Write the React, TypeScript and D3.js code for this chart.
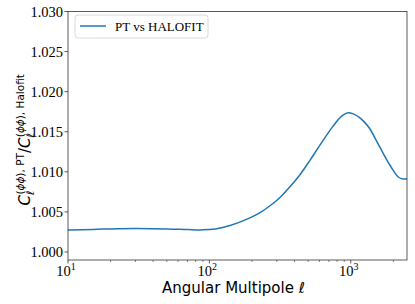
import React from 'react';
import * as d3 from 'd3';

// multipoles and ratio
const ells = [10, 15, 20, 30, 50, 70, 90, 110, 140, 190, 230, 270, 316, 370, 436, 513, 604, 750, 870, 957, 1050, 1150, 1250, 1360, 1600, 1890, 2160, 2340, 2500];
const ratio = [1.00274, 1.00282, 1.00288, 1.00292, 1.00288, 1.0028, 1.00276, 1.00288, 1.0033, 1.0042, 1.00495, 1.0058, 1.0068, 1.0081, 1.0096, 1.0114, 1.0133, 1.0157, 1.017, 1.01738, 1.0172, 1.0168, 1.0162, 1.0154, 1.01313, 1.01085, 1.00939, 1.0091, 1.00914];
const yTicks = [1.0, 1.005, 1.01, 1.015, 1.02, 1.025, 1.03];
const xDecades = [1, 2, 3];
const legendLabel = 'PT vs HALOFIT';

const App = () => {
  const width = 415, height = 304;
  const m = { left: 68, right: 8, top: 11.5, bottom: 44 };
  const x = d3.scaleLog().domain([10, 2500]).range([m.left, width - m.right]);
  const y = d3.scaleLinear().domain([0.999, 1.03]).range([height - m.bottom, m.top]);
  const serif = '"Liberation Serif", "Times New Roman", serif';
  const sans = '"DejaVu Sans", sans-serif';

  const line = d3.line<number>()
    .x((d, i) => x(ells[i]))
    .y(d => y(d))
    .curve(d3.curveCatmullRom.alpha(0.5));

  const minor: number[] = [];
  for (let p = 1; p <= 3; p++) {
    for (let k = 2; k <= 9; k++) {
      const v = k * Math.pow(10, p);
      if (v <= 2500) minor.push(v);
    }
  }

  const x0 = m.left, x1 = width - m.right, yb = height - m.bottom;

  return (
    <svg width={width} height={height} style={{ position: 'absolute', left: 0, top: 0, background: 'white' }}>
      <path d={line(ratio) || ''} fill="none" stroke="#1f77b4" strokeWidth={1.5} />
      <rect x={x0} y={m.top} width={x1 - x0} height={yb - m.top} fill="none" stroke="#333" strokeWidth={0.8} />
      {yTicks.map(t => (
        <g key={t}>
          <line x1={x0 - 3.5} x2={x0} y1={y(t)} y2={y(t)} stroke="#333" strokeWidth={0.8} />
          <text x={x0 - 5} y={y(t) + 5} textAnchor="end" style={{ fontFamily: serif, fontSize: '14.5px', fill: '#000' }}>{t.toFixed(3)}</text>
        </g>
      ))}
      {minor.map(t => (
        <line key={t} x1={x(t)} x2={x(t)} y1={yb} y2={yb + 2} stroke="#333" strokeWidth={0.6} />
      ))}
      {xDecades.map(p => (
        <g key={p}>
          <line x1={x(Math.pow(10, p))} x2={x(Math.pow(10, p))} y1={yb} y2={yb + 3.5} stroke="#333" strokeWidth={0.8} />
          <text x={x(Math.pow(10, p)) - 2} y={yb + 16} textAnchor="middle" style={{ fontFamily: serif, fontSize: '14.5px', fill: '#000' }}>
            10<tspan dy={-6} style={{ fontSize: '10px' }}>{p}</tspan>
          </text>
        </g>
      ))}
      <text x={(x0 + x1) / 2 - 4} y={293} textAnchor="middle" style={{ fontFamily: sans, fontSize: '15px', fill: '#000' }}>
        Angular Multipole  <tspan style={{ fontStyle: 'italic' }}>ℓ</tspan>
      </text>
      <text transform={`translate(30,${(m.top + yb) / 2 + 4}) rotate(-90)`} textAnchor="middle" style={{ fontFamily: sans, fontSize: '15px', fill: '#000' }}>
        <tspan style={{ fontStyle: 'italic' }}>C</tspan>
        <tspan dy={4} style={{ fontSize: '10.5px', fontStyle: 'italic' }}>ℓ</tspan>
        <tspan dx={-4} dy={-10} style={{ fontSize: '10.5px' }}>(<tspan style={{ fontStyle: 'italic' }}>ϕϕ</tspan>), PT</tspan>
        <tspan dy={6}>/</tspan>
        <tspan style={{ fontStyle: 'italic' }}>C</tspan>
        <tspan dy={4} style={{ fontSize: '10.5px', fontStyle: 'italic' }}>ℓ</tspan>
        <tspan dx={-4} dy={-10} style={{ fontSize: '10.5px' }}>(<tspan style={{ fontStyle: 'italic' }}>ϕϕ</tspan>), Halofit</tspan>
      </text>
      <g>
        <rect x={75} y={15} width={133} height={23} rx={3} fill="white" fillOpacity={0.8} stroke="#d0d0d0" strokeWidth={0.8} />
        <line x1={80} x2={106} y1={26} y2={26} stroke="#1f77b4" strokeWidth={1.5} />
        <text x={115} y={31} style={{ fontFamily: serif, fontSize: '13px', fill: '#000' }}>{legendLabel}</text>
      </g>
    </svg>
  );
};

export default App;
